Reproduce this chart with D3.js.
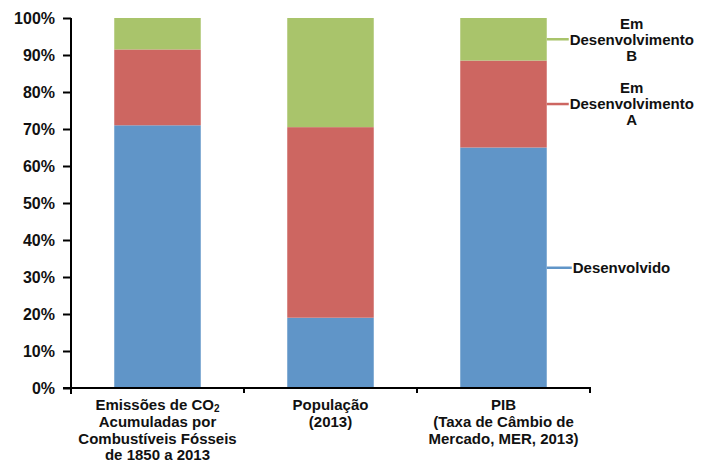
<!DOCTYPE html>
<html>
<head>
<meta charset="utf-8">
<script src="https://cdn.jsdelivr.net/npm/d3@7"></script>
<style>
  html, body { margin: 0; padding: 0; background: #fff; }
  svg { display: block; font-family: "Liberation Sans", Arial, sans-serif; font-weight: bold; }
</style>
</head>
<body>
<svg id="chart" width="708" height="464"></svg>
<script>
// Categories (keys) and their multi-line axis labels
const categories = ["co2", "pop", "pib"];
const categoryLabels = [
  ["Emissões de CO|2", "Acumuladas por", "Combustíveis Fósseis", "de 1850 a 2013"],
  ["População", "(2013)"],
  ["PIB", "(Taxa de Câmbio de", "Mercado, MER, 2013)"]
];

// Shares per group of countries, in percent
const desenvolvido = [71, 19, 65];
const emDesenvolvimentoA = [20.5, 51.5, 23.5];
const emDesenvolvimentoB = [8.5, 29.5, 11.5];

const seriesKeys = ["Desenvolvido", "Em Desenvolvimento A", "Em Desenvolvimento B"];
const seriesLabels = [["Desenvolvido"], ["Em", "Desenvolvimento", "A"], ["Em", "Desenvolvimento", "B"]];
const seriesColors = ["#6095c8", "#cd6661", "#a9c46b"];

const yTicks = [0, 10, 20, 30, 40, 50, 60, 70, 80, 90, 100];

// Build rows for the stack layout
const rows = categories.map((c, i) => ({
  cat: c,
  "Desenvolvido": desenvolvido[i],
  "Em Desenvolvimento A": emDesenvolvimentoA[i],
  "Em Desenvolvimento B": emDesenvolvimentoB[i]
}));
const stacked = d3.stack().keys(seriesKeys)(rows);

const svg = d3.select("#chart");
const plotLeft = 71, plotRight = 590, plotTop = 18, plotBottom = 388;

const x = d3.scaleBand().domain(categories).range([plotLeft, plotRight])
  .paddingInner(0.5).paddingOuter(0.25);
const y = d3.scaleLinear().domain([0, 100]).range([plotBottom, plotTop]);
const color = d3.scaleOrdinal().domain(seriesKeys).range(seriesColors);

// Stacked bars
svg.append("g").selectAll("g")
  .data(stacked).join("g")
  .attr("fill", d => color(d.key))
  .selectAll("rect")
  .data(d => d).join("rect")
  .attr("x", d => x(d.data.cat))
  .attr("width", x.bandwidth())
  .attr("y", d => y(d[1]))
  .attr("height", d => y(d[0]) - y(d[1]));

// Y axis
const yAxis = svg.append("g")
  .attr("transform", `translate(${plotLeft},0)`)
  .call(d3.axisLeft(y).tickValues(yTicks).tickFormat(d => d + "%").tickSize(8).tickPadding(8));
yAxis.select(".domain").attr("stroke", "#000").attr("stroke-width", 2)
  .attr("d", `M0,${plotTop}V${plotBottom + 6}`);
yAxis.selectAll(".tick line").attr("stroke", "#000").attr("stroke-width", 2);
yAxis.selectAll(".tick text").attr("font-size", 16).attr("font-weight", "bold")
  .attr("fill", "#111").attr("font-family", "Liberation Sans, Arial, sans-serif");

// X axis baseline with ticks at category boundaries
const xAxis = svg.append("g").attr("transform", `translate(0,${plotBottom})`);
xAxis.append("line").attr("x1", plotLeft - 8).attr("x2", plotRight + 1)
  .attr("stroke", "#000").attr("stroke-width", 2);
const bounds = d3.range(categories.length + 1).map(i => plotLeft + i * x.step());
xAxis.selectAll("line.b").data(bounds).join("line").attr("class", "b")
  .attr("x1", d => d).attr("x2", d => d).attr("y1", 0).attr("y2", 5)
  .attr("stroke", "#000").attr("stroke-width", 2);

// Category labels (a "|" marks a subscript part)
const lineY = [410, 427, 444, 460];
const labelG = svg.append("g").attr("font-size", 15).attr("fill", "#111").attr("text-anchor", "middle");
categories.forEach((c, i) => {
  const cx = x(c) + x.bandwidth() / 2;
  const t = labelG.append("text").attr("x", cx).attr("y", lineY[0]);
  categoryLabels[i].forEach((line, j) => {
    const parts = line.split("|");
    t.append("tspan").attr("x", cx).attr("y", lineY[j]).text(parts[0]);
    if (parts[1]) {
      t.append("tspan").attr("font-size", 10).attr("dy", 2).text(parts[1]);
    }
  });
});

// Series labels with leader lines next to the last bar
const lastCat = categories[categories.length - 1];
const lastRow = stacked.map(s => s[s.length - 1]);
const barRight = x(lastCat) + x.bandwidth();
const legendG = svg.append("g").attr("font-size", 15).attr("fill", "#111");
lastRow.forEach((seg, k) => {
  const my = y((seg[0] + seg[1]) / 2);
  const single = seriesLabels[k].length === 1;
  legendG.append("line")
    .attr("x1", barRight).attr("x2", barRight + (single ? 25 : 22))
    .attr("y1", my).attr("y2", my)
    .attr("stroke", seriesColors[k]).attr("stroke-width", 2.5);
  if (single) {
    legendG.append("text").attr("x", barRight + 26).attr("y", my)
      .attr("dy", "0.35em").text(seriesLabels[k][0]);
  } else {
    const t = legendG.append("text").attr("text-anchor", "middle");
    seriesLabels[k].forEach((line, j) => {
      t.append("tspan").attr("x", barRight + 85).attr("y", my + (j - 1) * 16)
        .attr("dy", "0.35em").text(line);
    });
  }
});
</script>
</body>
</html>
